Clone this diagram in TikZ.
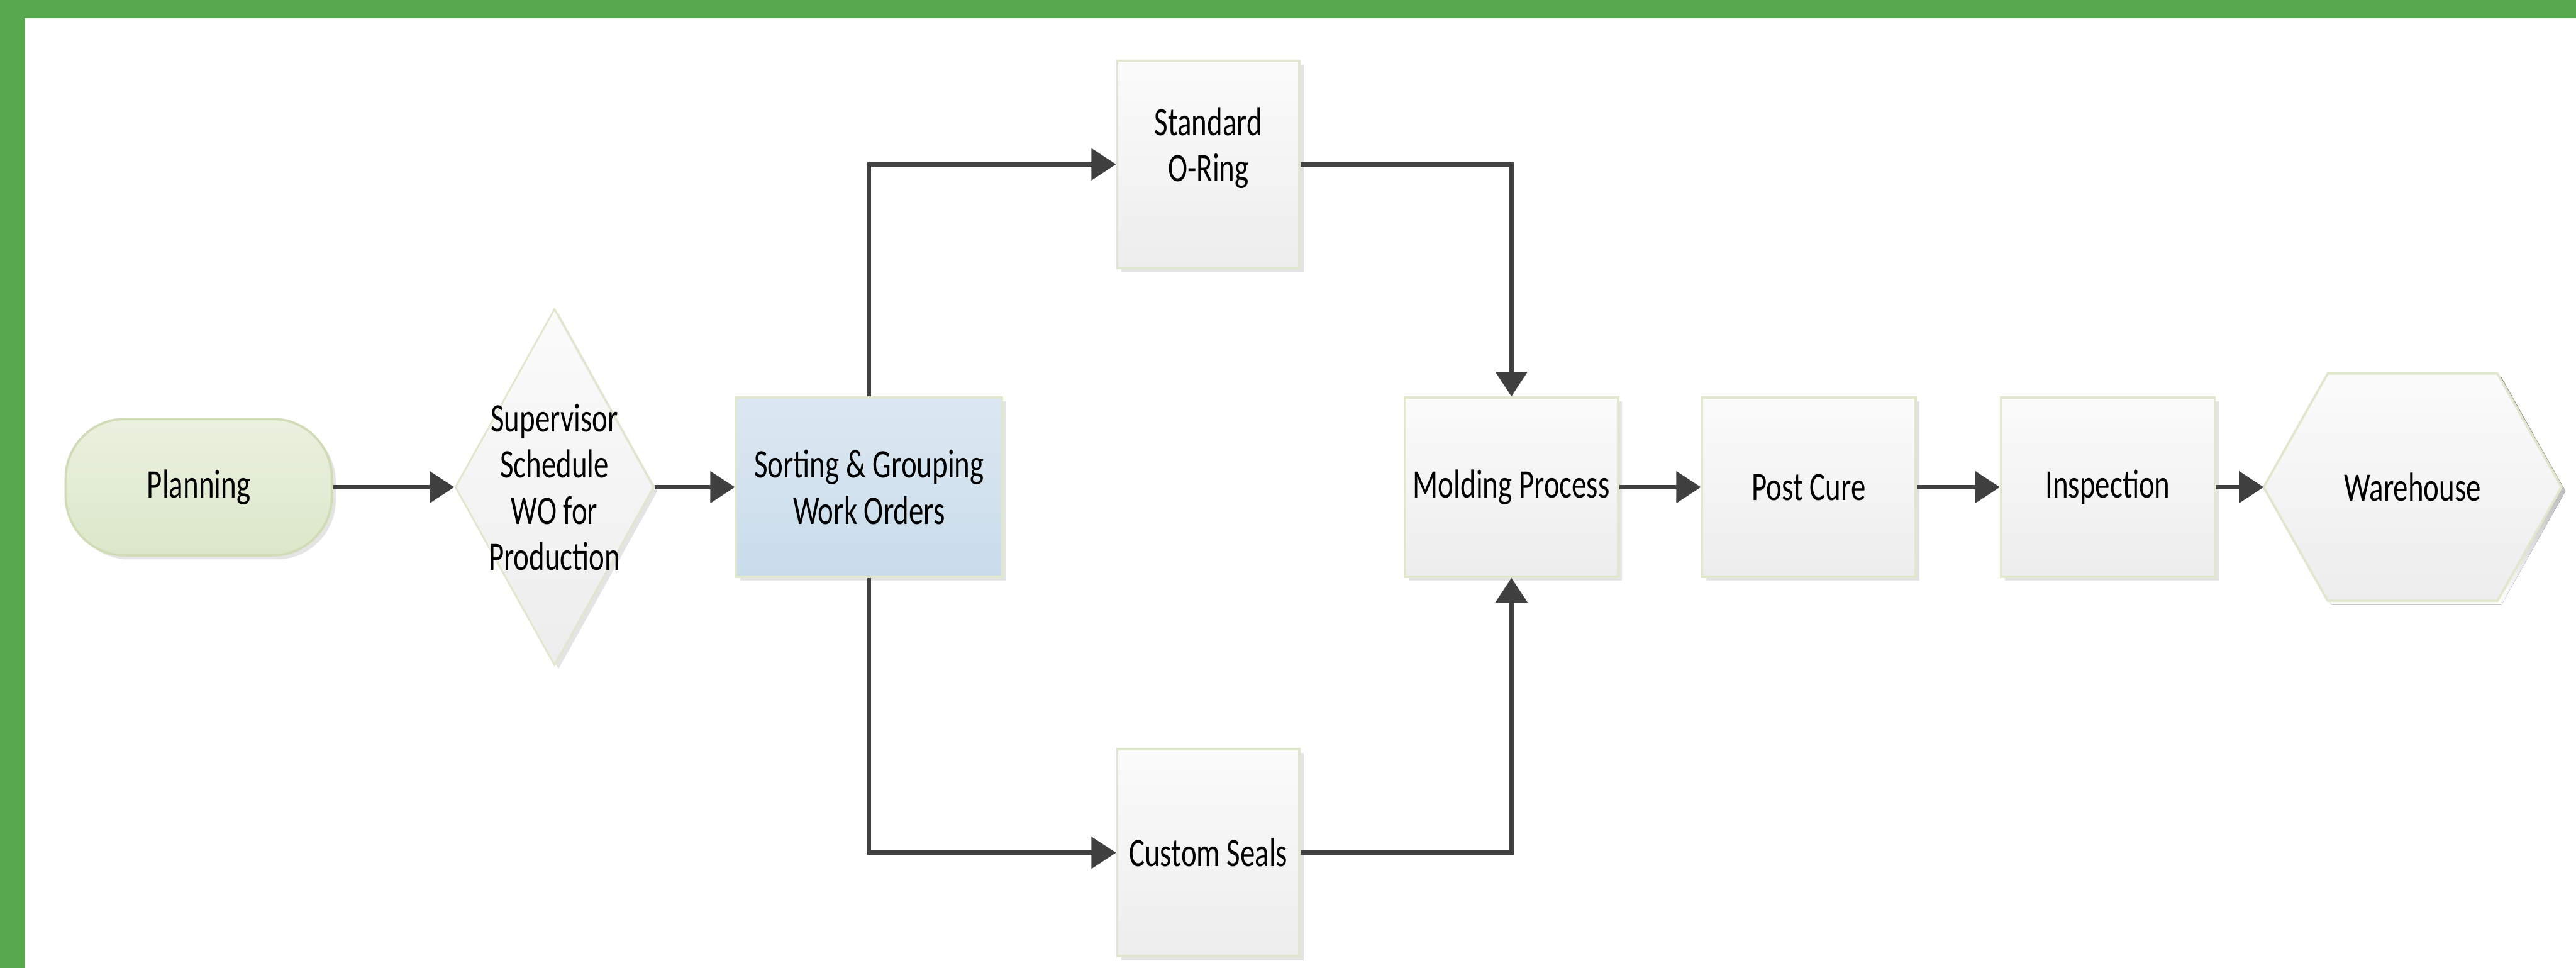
\documentclass[tikz,border=0pt]{standalone}
\usepackage{fontspec}
\setmainfont[FakeStretch=0.73]{Carlito}
\usetikzlibrary{arrows.meta,shapes.geometric,shadows,calc}

\definecolor{frame}{HTML}{58A84E}
\definecolor{wire}{HTML}{404040}
\definecolor{edge}{HTML}{DFE7CD}
\definecolor{boxtop}{HTML}{FBFBFB}
\definecolor{boxbot}{HTML}{EDEDED}
\definecolor{plantop}{HTML}{EAF1DF}
\definecolor{planbot}{HTML}{DCE7CA}
\definecolor{planedge}{HTML}{CFDCB6}
\definecolor{sorttop}{HTML}{DCE8F2}
\definecolor{sortbot}{HTML}{C9DCEB}
\definecolor{shade}{HTML}{E4E4E4}

\tikzset{
  flowtext/.style={font=\fontsize{35}{40}\selectfont, text=black, align=center},
  softshadow/.style={drop shadow={shadow xshift=1.2mm, shadow yshift=-1.2mm, fill=shade, opacity=1}},
  procbox/.style={flowtext, draw=edge, line width=2pt, top color=boxtop, bottom color=boxbot,
    softshadow, inner sep=0pt, minimum width=65mm, minimum height=54.5mm},
  arr/.style={draw=wire, line width=3.6pt, -{Triangle[length=7.5mm, width=9.5mm]}},
}

\begin{document}
\begin{tikzpicture}[x=0.5mm, y=0.5mm]
\useasboundingbox (0,0) rectangle (1568,589);

% green frame along the top and left edges
\fill[frame] (0,577.8) rectangle (1568,589);
\fill[frame] (0,0) rectangle (14.9,589);

% start terminal
\node[flowtext, draw=planedge, line width=2pt, top color=plantop, bottom color=planbot,
      rounded corners=18mm, softshadow, minimum width=81mm, minimum height=41.5mm]
      (plan) at (121,292.5) {Planning};

% decision diamond
\node[diamond, draw=edge, line width=1.5pt, top color=boxtop, bottom color=boxbot, softshadow,
      minimum width=60.5mm, minimum height=108.5mm, inner sep=0pt] (sup) at (337.5,292.5) {};
\node[flowtext] (suptext) at (sup.center) {Supervisor\\Schedule\\WO for\\Production};

% sorting step
\node[procbox, top color=sorttop, bottom color=sortbot, minimum width=81mm]
      (sort) at (529,292.5) {Sorting \& Grouping\\Work Orders};

% two product branches
\node[procbox, minimum width=55.5mm, minimum height=63mm] (std) at (735.5,489) {};
\node[flowtext] (stdtext) at ($(std.center)+(0,10)$) {Standard\\O-Ring};
\node[procbox, minimum width=55.5mm, minimum height=63mm] (cus) at (735.5,70) {Custom Seals};

% main production line
\node[procbox] (mold) at (920,292.5) {Molding Process};
\node[procbox] (post) at (1101,292.5) {Post Cure};
\node[procbox] (insp) at (1283,292.5) {Inspection};

% end hexagon
\node[minimum width=90.5mm, minimum height=69mm, inner sep=0pt] (wh) at (1468.5,292.5) {};
\fill[shade] ($(wh.west)+(2.4,-2.4)$) -- ($(wh.north west)+(41.4,-2.4)$) -- ($(wh.north east)+(-36.6,-2.4)$)
  -- ($(wh.east)+(2.4,-2.4)$) -- ($(wh.south east)+(-36.6,-2.4)$) -- ($(wh.south west)+(41.4,-2.4)$) -- cycle;
\path[draw=edge, line width=2pt, top color=boxtop, bottom color=boxbot]
  (wh.west) -- ($(wh.north west)+(39,0)$) -- ($(wh.north east)+(-39,0)$) -- (wh.east)
  -- ($(wh.south east)+(-39,0)$) -- ($(wh.south west)+(39,0)$) -- cycle;
\node[flowtext] (whtext) at (wh.center) {Warehouse};

% connectors
\draw[arr] (plan.east) -- (sup.west);
\draw[arr] (sup.east) -- (sort.west);
\draw[arr] (sort.north) |- (std.west);
\draw[arr] (sort.south) |- (cus.west);
\draw[arr] (std.east) -| (mold.north);
\draw[arr] (cus.east) -| (mold.south);
\draw[arr] (mold.east) -- (post.west);
\draw[arr] (post.east) -- (insp.west);
\draw[arr] (insp.east) -- (wh.west);
\end{tikzpicture}
\end{document}
